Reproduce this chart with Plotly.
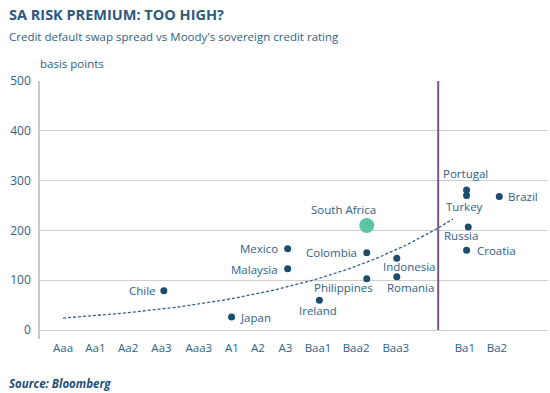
import numpy as np
import plotly.graph_objects as go

# Rating tick labels and their positions on the rating axis
ratings = ["Aaa", "Aa1", "Aa2", "Aa3", "Aaa3", "A1", "A2", "A3", "Baa1", "Baa2", "Baa3", "Ba1", "Ba2"]
rating_pos = [0, 0.97, 1.95, 2.95, 4.07, 5.06, 5.84, 6.66, 7.64, 8.78, 9.97, 12.04, 13]

countries = ["Chile", "Japan", "Mexico", "Malaysia", "Ireland", "Colombia", "Philippines",
             "Indonesia", "Romania", "Portugal", "Turkey", "Russia", "Croatia", "Brazil"]
country_x = [3.02, 5.05, 6.73, 6.73, 7.68, 9.10, 9.10, 10.0, 10.0, 12.09, 12.09, 12.14, 12.09, 13.07]
cds_bp = [79, 26, 163, 123, 60, 155, 103, 144, 107, 281, 270, 207, 160, 268]

sa_name = "South Africa"
sa_x = 9.10
sa_bp = 210

# Exponential trend line (endpoints)
trend_x0, trend_x1 = 0.0, 11.68
trend_y0, trend_y1 = 24, 223

# Investment grade divider
divider_x = 11.24

# label placement: (xanchor, xshift, yshift)
label_style = {
    "Chile": ("right", -6, 0),
    "Japan": ("left", 6, 0),
    "Mexico": ("right", -8, 0),
    "Malaysia": ("right", -8, -1),
    "Ireland": ("center", -1, -10),
    "Colombia": ("right", -8, 0),
    "Philippines": ("center", -23, -9),
    "Indonesia": ("center", 13, -8),
    "Romania": ("center", 14, -11),
    "Portugal": ("center", -1, 17),
    "Turkey": ("center", -2, -11),
    "Russia": ("center", -7, -9),
    "Croatia": ("left", 8, 0),
    "Brazil": ("left", 7, 0),
}

TXT = "#2f6185"
DOT = "#1b4d6e"
FONT = "Open Sans"
LBL = 11.5

fig = go.Figure()

b = np.log(trend_y1 / trend_y0) / (trend_x1 - trend_x0)
tx = np.linspace(trend_x0, trend_x1, 80)
ty = trend_y0 * np.exp(b * (tx - trend_x0))
fig.add_trace(go.Scatter(x=tx, y=ty, mode="lines",
                         line=dict(color="#2f6185", width=1.3, dash="3px,2px"),
                         hoverinfo="skip", showlegend=False))

fig.add_trace(go.Scatter(x=country_x, y=cds_bp, mode="markers",
                         marker=dict(color=DOT, size=7), text=countries,
                         showlegend=False))
fig.add_trace(go.Scatter(x=[sa_x], y=[sa_bp], mode="markers",
                         marker=dict(color="#5cc4a7", size=15), text=[sa_name],
                         showlegend=False))

fig.add_shape(type="line", x0=divider_x, x1=divider_x, y0=0, y1=500, yref="y",
              line=dict(color="#7b558b", width=2))

annotations = []
for name, x, y in zip(countries, country_x, cds_bp):
    xa, xs, ys = label_style[name]
    annotations.append(dict(x=x, y=y, text=name, showarrow=False, xanchor=xa,
                            yanchor="middle", xshift=xs, yshift=ys,
                            font=dict(family=FONT, size=LBL, color=TXT)))
annotations.append(dict(x=sa_x, y=sa_bp, text=sa_name, showarrow=False, xanchor="center",
                        yanchor="middle", xshift=-23, yshift=16,
                        font=dict(family=FONT, size=LBL, color=TXT)))

PW = 508.0  # plot width px
PH = 258.0  # plot height px

def px_x(px):
    return (px - 40) / PW

def px_y(py):
    return (339 - py) / PH

annotations += [
    dict(text="<b>SA RISK PREMIUM: TOO HIGH?</b>", xref="paper", yref="paper",
         x=px_x(7), y=px_y(14), xanchor="left", yanchor="middle", showarrow=False,
         font=dict(family=FONT, size=14.5, color="#2a5a80")),
    dict(text="Credit default swap spread vs Moody's sovereign credit rating", xref="paper", yref="paper",
         x=px_x(7), y=px_y(37), xanchor="left", yanchor="middle", showarrow=False,
         font=dict(family=FONT, size=11.5, color=TXT)),
    dict(text="basis points", xref="paper", yref="paper",
         x=px_x(38), y=px_y(63), xanchor="left", yanchor="middle", showarrow=False,
         font=dict(family=FONT, size=11.5, color=TXT)),
    dict(text="<b><i>Source: Bloomberg</i></b>", xref="paper", yref="paper",
         x=px_x(7), y=px_y(383), xanchor="left", yanchor="middle", showarrow=False,
         font=dict(family=FONT, size=11.5, color="#1f4f78")),
]

fig.update_layout(
    width=550, height=393,
    margin=dict(l=40, r=2, t=81, b=54),
    paper_bgcolor="white", plot_bgcolor="white",
    font=dict(family=FONT, color=TXT),
    xaxis=dict(range=[-0.69, 14.53], tickmode="array", tickvals=rating_pos, ticktext=ratings,
               showgrid=False, zeroline=False, showline=False, automargin=False,
               ticks="", tickfont=dict(family=FONT, size=11.5, color=TXT)),
    yaxis=dict(range=[-18, 500], tickvals=[0, 100, 200, 300, 400, 500],
               showgrid=True, gridcolor="#cfcfcf", gridwidth=1, automargin=False,
               zeroline=False, showline=True, linecolor="#c8c8c8", linewidth=1.5,
               ticks="outside", ticklen=5, tickcolor="rgba(0,0,0,0)",
               tickfont=dict(family=FONT, size=12, color=TXT)),
    annotations=annotations,
)

fig.write_html("out.html", config={"displayModeBar": False},
               post_script="document.body.style.margin='0';document.body.style.padding='0';")
